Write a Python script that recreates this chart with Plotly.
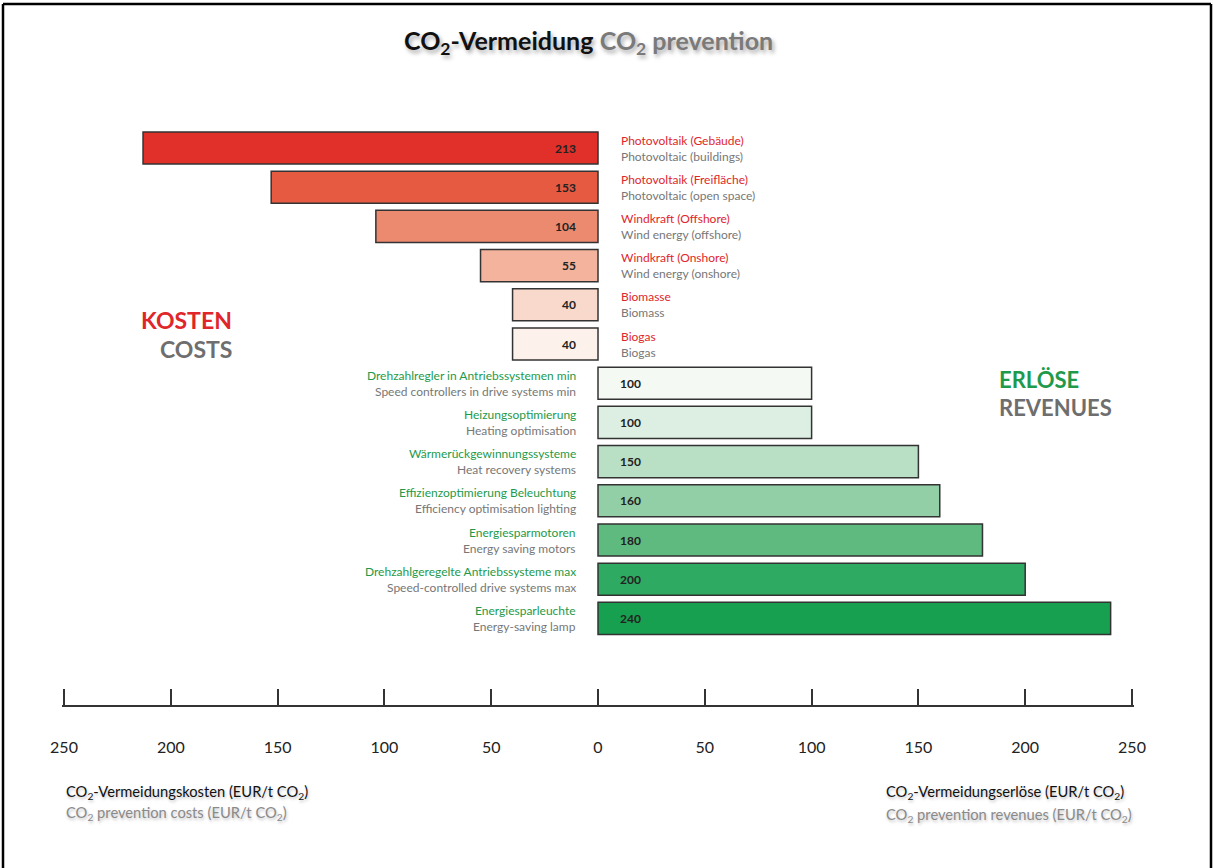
import plotly.graph_objects as go

# ---------------- data ----------------
cost_de = ["Photovoltaik (Gebäude)", "Photovoltaik (Freifläche)", "Windkraft (Offshore)",
           "Windkraft (Onshore)", "Biomasse", "Biogas"]
cost_en = ["Photovoltaic (buildings)", "Photovoltaic (open space)", "Wind energy (offshore)",
           "Wind energy (onshore)", "Biomass", "Biogas"]
cost_values = [213, 153, 104, 55, 40, 40]
cost_colors = ["#E1302A", "#E65A42", "#EC8A70", "#F3B39D", "#F9D9CB", "#FDF1EB"]

rev_de = ["Drehzahlregler in Antriebssystemen min", "Heizungsoptimierung",
          "Wärmerückgewinnungssysteme", "Effizienzoptimierung Beleuchtung",
          "Energiesparmotoren", "Drehzahlgeregelte Antriebssysteme max", "Energiesparleuchte"]
rev_en = ["Speed controllers in drive systems min", "Heating optimisation",
          "Heat recovery systems", "Efficiency optimisation lighting",
          "Energy saving motors", "Speed-controlled drive systems max", "Energy-saving lamp"]
rev_values = [100, 100, 150, 160, 180, 200, 240]
rev_colors = ["#F4F9F4", "#DDEFE2", "#B9DFC4", "#93CFA6", "#5FBA7F", "#2FAA62", "#17A050"]

tick_vals = [-250, -200, -150, -100, -50, 0, 50, 100, 150, 200, 250]
tick_text = ["250", "200", "150", "100", "50", "0", "50", "100", "150", "200", "250"]

categories = cost_de + rev_de

FONT = "Lato, 'Open Sans', sans-serif"
W, H = 1213, 868
MB = 163
PH = H - MB  # plot area height in px

X0_PX, PX_PER_UNIT = 598, 2.136
X_LIM = 251


def px_x(px):
    return px / W


def px_y(px):
    return 1 - px / PH


fig = go.Figure()
fig.add_trace(go.Bar(
    y=cost_de, x=[-v for v in cost_values], orientation="h",
    marker=dict(color=cost_colors, line=dict(color="#333333", width=1.5)),
    width=0.82, hoverinfo="skip", showlegend=False,
))
fig.add_trace(go.Bar(
    y=rev_de, x=rev_values, orientation="h",
    marker=dict(color=rev_colors, line=dict(color="#333333", width=1.5)),
    width=0.82, hoverinfo="skip", showlegend=False,
))

ann = []
# value labels and category labels
for de, en, v in zip(cost_de, cost_en, cost_values):
    ann.append(dict(x=0, y=de, xref="x", yref="y", text=f"<b>{v}</b>", showarrow=False,
                    xanchor="right", xshift=-20, font=dict(family=FONT, size=12, color="#222222")))
    ann.append(dict(x=0, y=de, xref="x", yref="y", text=de, showarrow=False,
                    xanchor="left", xshift=21, yshift=8, font=dict(family=FONT, size=12, color="#E0262B")))
    ann.append(dict(x=0, y=de, xref="x", yref="y", text=en, showarrow=False,
                    xanchor="left", xshift=21, yshift=-8, font=dict(family=FONT, size=12, color="#777777")))
for de, en, v in zip(rev_de, rev_en, rev_values):
    ann.append(dict(x=0, y=de, xref="x", yref="y", text=f"<b>{v}</b>", showarrow=False,
                    xanchor="left", xshift=20, font=dict(family=FONT, size=12, color="#222222")))
    ann.append(dict(x=0, y=de, xref="x", yref="y", text=de, showarrow=False,
                    xanchor="right", xshift=-20, yshift=8, font=dict(family=FONT, size=12, color="#1E9A4A")))
    ann.append(dict(x=0, y=de, xref="x", yref="y", text=en, showarrow=False,
                    xanchor="right", xshift=-20, yshift=-8, font=dict(family=FONT, size=12, color="#777777")))

shadow = "2px 3px 4px rgba(0,0,0,0.35)"
# Title
ann.append(dict(x=px_x(588), y=px_y(42), xref="paper", yref="paper", showarrow=False,
                xanchor="center", yanchor="middle",
                text="<b>CO<sub>2</sub>-Vermeidung</b> <b><span style='color:#7a7a7a'>CO<sub>2</sub> prevention</span></b>",
                font=dict(family=FONT, size=25, color="#111111", shadow=shadow)))
# Side headers
ann.append(dict(x=px_x(234), y=px_y(320), xref="paper", yref="paper", showarrow=False,
                xanchor="right", yanchor="middle", text="<b>KOSTEN</b>",
                font=dict(family=FONT, size=23, color="#E0262B")))
ann.append(dict(x=px_x(234), y=px_y(349), xref="paper", yref="paper", showarrow=False,
                xanchor="right", yanchor="middle", text="<b>COSTS</b>",
                font=dict(family=FONT, size=23, color="#6e6e6e")))
ann.append(dict(x=px_x(997), y=px_y(379), xref="paper", yref="paper", showarrow=False,
                xanchor="left", yanchor="middle", text="<b>ERLÖSE</b>",
                font=dict(family=FONT, size=22, color="#1E9A4A")))
ann.append(dict(x=px_x(997), y=px_y(408), xref="paper", yref="paper", showarrow=False,
                xanchor="left", yanchor="middle", text="<b>REVENUES</b>",
                font=dict(family=FONT, size=22, color="#6e6e6e")))
# Footer axis titles
fshadow = "1px 2px 3px rgba(0,0,0,0.25)"
FS = 14.7
ann.append(dict(x=px_x(64), y=px_y(792), xref="paper", yref="paper", showarrow=False,
                xanchor="left", yanchor="middle",
                text="CO<sub>2</sub>-Vermeidungskosten (EUR/t CO<sub>2</sub>)",
                font=dict(family=FONT, size=FS, color="#111111", shadow=fshadow)))
ann.append(dict(x=px_x(64), y=px_y(813), xref="paper", yref="paper", showarrow=False,
                xanchor="left", yanchor="middle",
                text="CO<sub>2</sub> prevention costs (EUR/t CO<sub>2</sub>)",
                font=dict(family=FONT, size=FS, color="#8a8a8a", shadow=fshadow)))
ann.append(dict(x=px_x(884), y=px_y(792), xref="paper", yref="paper", showarrow=False,
                xanchor="left", yanchor="middle",
                text="CO<sub>2</sub>-Vermeidungserlöse (EUR/t CO<sub>2</sub>)",
                font=dict(family=FONT, size=FS, color="#111111", shadow=fshadow)))
ann.append(dict(x=px_x(884), y=px_y(815), xref="paper", yref="paper", showarrow=False,
                xanchor="left", yanchor="middle",
                text="CO<sub>2</sub> prevention revenues (EUR/t CO<sub>2</sub>)",
                font=dict(family=FONT, size=FS, color="#8a8a8a", shadow=fshadow)))

# frame (open at the bottom)
shapes = [
    dict(type="line", xref="paper", yref="paper", x0=px_x(3), x1=px_x(3), y0=px_y(4), y1=px_y(H + 5),
         line=dict(color="#000000", width=2.5)),
    dict(type="line", xref="paper", yref="paper", x0=px_x(3), x1=px_x(1211), y0=px_y(4), y1=px_y(4),
         line=dict(color="#000000", width=2.5)),
    dict(type="line", xref="paper", yref="paper", x0=px_x(1211), x1=px_x(1211), y0=px_y(4), y1=px_y(H + 5),
         line=dict(color="#000000", width=2.5)),
]

row0_px, row_step = 148, 39.2
y_top = (0 - row0_px) / row_step
y_bot = (PH - row0_px) / row_step

dom_l = px_x(X0_PX - X_LIM * PX_PER_UNIT)
dom_r = px_x(X0_PX + X_LIM * PX_PER_UNIT)

fig.update_layout(
    width=W, height=H,
    margin=dict(l=0, r=0, t=0, b=MB, pad=0, autoexpand=False),
    paper_bgcolor="white", plot_bgcolor="white",
    barmode="overlay",
    xaxis=dict(domain=[dom_l, dom_r], range=[-X_LIM, X_LIM], automargin=False,
               tickvals=tick_vals, ticktext=tick_text,
               ticks="inside", ticklen=16, tickwidth=1.5, tickcolor="#333333",
               showline=True, linecolor="#333333", linewidth=1.5,
               showgrid=False, zeroline=False, ticklabelstandoff=27,
               tickfont=dict(family=FONT, size=16, color="#222222"), fixedrange=True),
    yaxis=dict(type="category", categoryorder="array", categoryarray=categories,
               range=[y_bot, y_top], showticklabels=False, showgrid=False, automargin=False,
               zeroline=False, showline=False, ticks="", fixedrange=True),
    annotations=ann, shapes=shapes,
)

fig.write_html("out.html")
